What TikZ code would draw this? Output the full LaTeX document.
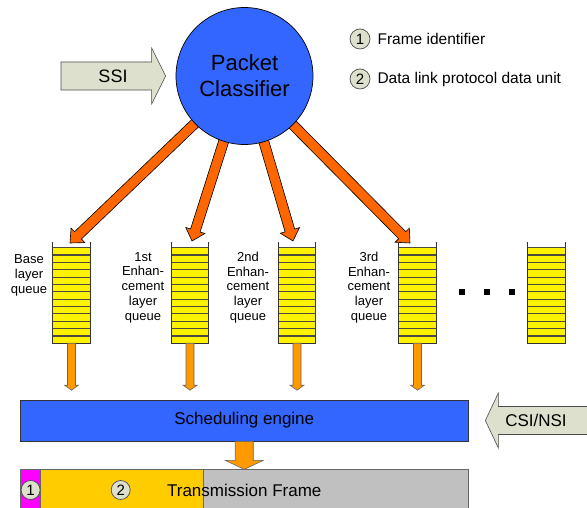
\documentclass[tikz,border=0pt]{standalone}
\usepackage{fontspec}
\setmainfont{Liberation Sans}
\usetikzlibrary{calc,positioning,backgrounds}

\definecolor{classblue}{HTML}{3366FF}
\definecolor{arrorange}{HTML}{FF6600}
\definecolor{qorange}{HTML}{FF9900}
\definecolor{inputgray}{RGB}{221,224,204}
\definecolor{fidmag}{HTML}{FF00FF}
\definecolor{pduyellow}{HTML}{FFCC00}
\definecolor{framegray}{HTML}{C0C0C0}

\newcommand\blockarrow[6][]{%
  \path ($(#3)!#6!(#2)$) coordinate (hb);
  \filldraw[#1] ($(#2)!#4!90:(#3)$) -- ($(hb)!#4!90:(#3)$) -- ($(hb)!#5!90:(#3)$) -- (#3)
    -- ($(hb)!#5!-90:(#3)$) -- ($(hb)!#4!-90:(#3)$) -- ($(#2)!#4!-90:(#3)$) -- cycle;
}

\begin{document}
\begin{tikzpicture}[x=1pt,y=-1pt,
    queue/.style={fill=yellow,minimum width=37pt,minimum height=95pt,inner sep=0pt},
    stripe/.style={draw=black!80!yellow,line width=1.3pt},
    qwall/.style={draw=black!80,line width=0.9pt},
    qlabel/.style={align=center,font=\fontsize{13}{14.7}\selectfont},
    radarrow/.style={fill=arrorange,draw=black,line width=0.6pt},
    qarrow/.style={fill=qorange,draw=black!60,line width=0.6pt},
    inarrow/.style={fill=inputgray,draw=black!70,line width=0.6pt},
    inlabel/.style={font=\fontsize{17}{20}\selectfont},
    numcirc/.style={circle,fill=inputgray,draw=black!70,line width=0.7pt,minimum size=19pt,inner sep=0pt,font=\fontsize{15}{15}\selectfont},
    legend/.style={inner sep=0pt,font=\fontsize{15.5}{18}\selectfont}]
  \useasboundingbox (0,0) rectangle (587,508);
  \clip (0,0) rectangle (587,508);

  \node[circle,fill=classblue,draw=black,line width=0.7pt,minimum size=137pt,align=center,
        font=\fontsize{22}{26}\selectfont] (pc) at (244.5,76) {Packet\\Classifier};

  \coordinate (ssiS) at (61,76);
  \coordinate (ssiT) at ($(pc.west)+(-10,0)$);
  \blockarrow[inarrow]{ssiS}{ssiT}{14pt}{28pt}{14pt}
  \node[font=\fontsize{18}{20}\selectfont] (ssi) at (113,76) {SSI};

  \node[numcirc,minimum size=20pt] (l1) at (360,39) {1};
  \node[legend,right=7pt of l1] (leg1) {Frame identifier};
  \node[numcirc,minimum size=20pt] (l2) at (360,79) {2};
  \node[legend,right=7pt of l2] (leg2) {Data link protocol data unit};

  \foreach \i/\x in {1/71.5,2/190,3/297,4/417.5,5/546.5} {
    \node[queue] (q\i) at (\x,295.5) {};
    \foreach \k in {0,...,12}
      \draw[stripe] ($(q\i.north west)!\k/13!(q\i.south west)$) -- ($(q\i.north east)!\k/13!(q\i.south east)$);
    \draw[qwall] ($(q\i.north west)+(0,-6)$) -- (q\i.south west) -- (q\i.south east) -- ($(q\i.north east)+(0,-6)$);
  }

  \node[qlabel] (lb1) at (29,275.5) {Base\\layer\\queue};
  \node[qlabel] (lb2) at (143,287.5) {1st\\Enhan-\\cement\\layer\\queue};
  \node[qlabel] (lb3) at (248,287.5) {2nd\\Enhan-\\cement\\layer\\queue};
  \node[qlabel] (lb4) at (369,287.5) {3rd\\Enhan-\\cement\\layer\\queue};

  \foreach \x in {462,487,512}
    \fill (\x-3,289) rectangle (\x+3,295);

  \coordinate (t1) at (70,243);
  \coordinate (t2) at (192,241);
  \coordinate (t3) at (293,241);
  \coordinate (t4) at (410,243);
  \begin{scope}[on background layer]
    \foreach \i in {1,...,4} {
      \blockarrow[radarrow]{pc.center}{t\i}{5pt}{10pt}{11pt}
    }
  \end{scope}

  \node[fill=classblue,draw=black!80,line width=0.7pt,minimum width=447.5pt,minimum height=41pt,
        font=\fontsize{17}{20}\selectfont] (se) at (244.25,420.5) {Scheduling engine};

  \foreach \i in {1,...,4} {
    \coordinate (d\i) at ($(q\i.south)+(0,47)$);
    \blockarrow[qarrow]{q\i.south}{d\i}{4pt}{7pt}{5pt}
  }

  \coordinate (csiS) at (600,420.5);
  \coordinate (csiT) at ($(se.east)+(17,0)$);
  \blockarrow[inarrow]{csiS}{csiT}{14pt}{27.5pt}{13pt}
  \node[inlabel] (csi) at (536,420.5) {CSI/NSI};

  \fill[fidmag] (20.5,469) rectangle (40.7,515);
  \fill[pduyellow] (40.7,469) rectangle (203,515);
  \fill[framegray] (203,469) rectangle (468,515);
  \draw[black!60,line width=0.7pt] (40.7,469) -- (40.7,515) (203,469) -- (203,515);
  \node[draw=black!60,line width=0.7pt,minimum width=447.5pt,minimum height=42pt,
        font=\fontsize{17}{20}\selectfont] (tf) at (244.25,490) {Transmission Frame};
  \node[numcirc] (f1) at (30.6,490) {1};
  \node[numcirc] (f2) at (120.7,490) {2};

  \coordinate (tt) at ($(se.south)+(0,28)$);
  \blockarrow[qarrow]{se.south}{tt}{9pt}{19pt}{9pt}
\end{tikzpicture}
\end{document}
